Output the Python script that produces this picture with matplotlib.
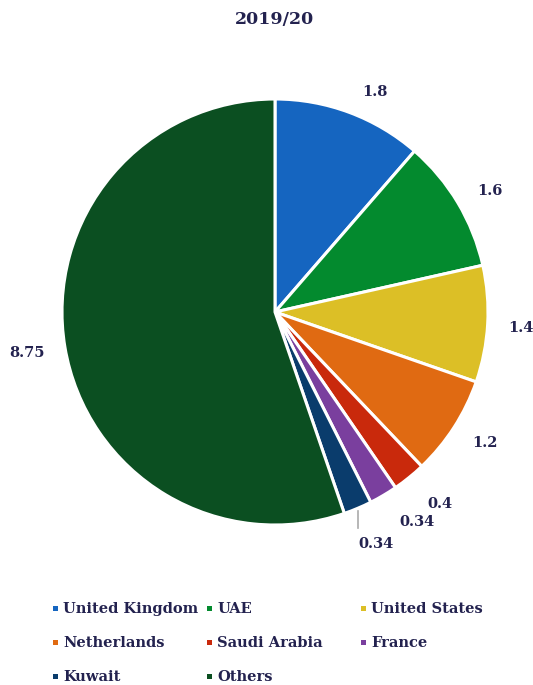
import numpy as np
import matplotlib.pyplot as plt
from matplotlib.patches import Rectangle

countries = ['United Kingdom', 'UAE', 'United States', 'Netherlands',
             'Saudi Arabia', 'France', 'Kuwait', 'Others']
values = [1.8, 1.6, 1.4, 1.2, 0.4, 0.34, 0.34, 8.75]
value_labels = ['1.8', '1.6', '1.4', '1.2', '0.4', '0.34', '0.34', '8.75']
colors = ['#1565c0', '#038a2e', '#dcbf26', '#e06a12',
          '#c9290c', '#7a3f9e', '#0a3c6c', '#0b4f21']

txt_color = '#23224f'
plt.rcParams['font.family'] = ['DejaVu Serif']
plt.rcParams['font.weight'] = 'bold'

W, H = 533, 685
fig = plt.figure(figsize=(W / 100, H / 100), dpi=100)

# pie centre and radius in pixels
cx, cy, r = 275, 373, 213
ax = fig.add_axes([(cx - r) / W, (cy - r) / H, 2 * r / W, 2 * r / H])
wedges, _ = ax.pie(values, colors=colors, startangle=90, counterclock=False,
                   radius=1, wedgeprops=dict(edgecolor='white', linewidth=2.2))
ax.set_xlim(-1, 1)
ax.set_ylim(-1, 1)
ax.set_aspect('equal')
ax.axis('off')

# value labels around the pie, nudged (in pixels) away from the slice midline
total = sum(values)
cum = np.cumsum([0] + values[:-1])
nudge = [(14, -11), (3, -6), (-1, -2), (2, 3), (9, 0), (16, 3), (0, 0), (-4, 0)]
for i, (v, lab) in enumerate(zip(values, value_labels)):
    ang = np.deg2rad(90 - 360 * (cum[i] + v / 2) / total)
    x = 1.16 * np.cos(ang) + nudge[i][0] / r
    y = 1.16 * np.sin(ang) + nudge[i][1] / r
    if i == 6:
        # leader line for the Kuwait slice
        ax.plot([0.39, 0.39], [-0.935, -1.015], color='#aaaaaa', lw=1.2,
                clip_on=False)
        x, y = 0.475, -1.09
    ax.text(x, y, lab, ha='center', va='center', fontsize=10.5,
            color=txt_color, fontweight='bold')

fig.text(cx / W, 1 - 20 / H, '2019/20', ha='center', va='center',
         fontsize=12.5, color=txt_color, fontweight='bold')

# legend laid out in three columns
col_x = [55, 209, 363]
row_y = [609, 643, 677]
for i, (name, c) in enumerate(zip(countries, colors)):
    px, py = col_x[i % 3], row_y[i // 3]
    fig.patches.append(Rectangle(((px - 2.5) / W, 1 - (py + 1.5) / H),
                                 5 / W, 5 / H, transform=fig.transFigure,
                                 facecolor=c, edgecolor='none'))
    fig.text((px + 8) / W, 1 - py / H, name, ha='left', va='center',
             fontsize=10.5, color=txt_color, fontweight='bold')

fig.savefig('out.png', dpi=100, facecolor='white')
